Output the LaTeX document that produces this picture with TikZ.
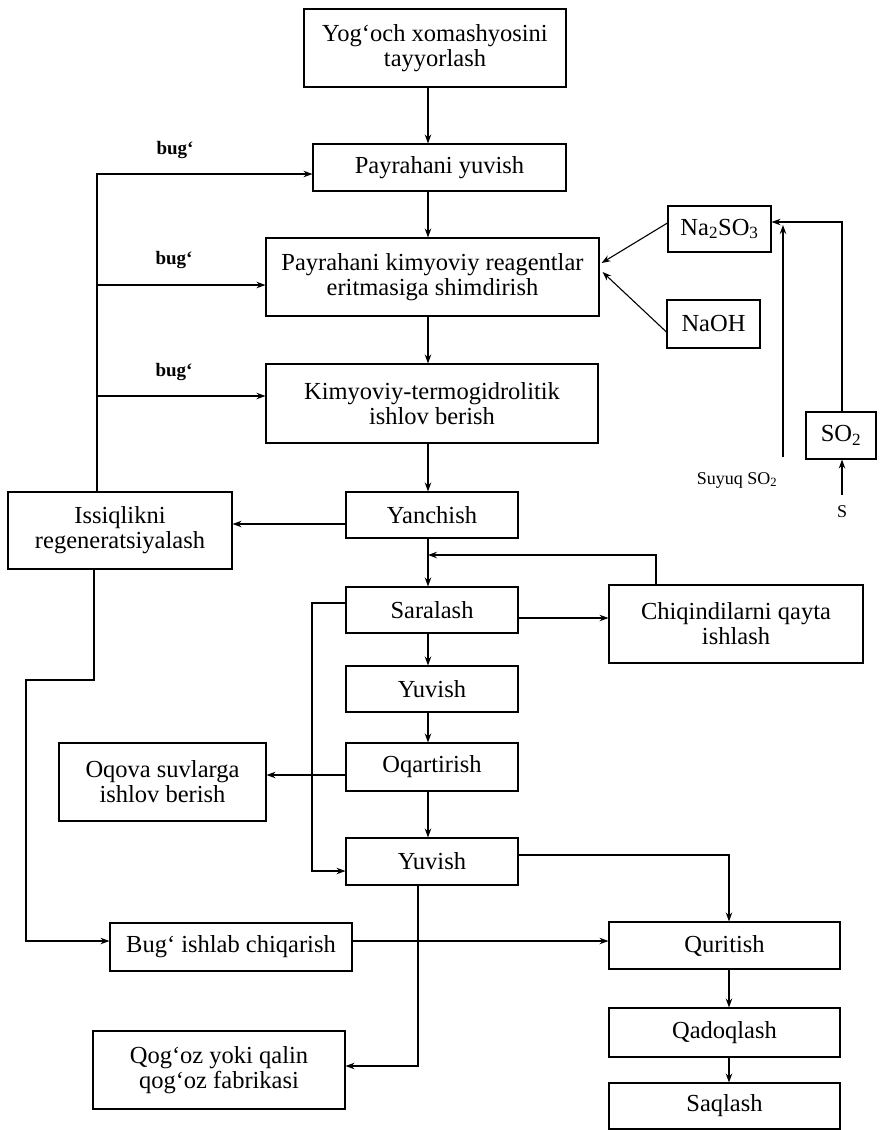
\documentclass[tikz,border=0pt]{standalone}
\usepackage{fontspec}
\setmainfont{Liberation Serif}
\usetikzlibrary{arrows.meta,calc}
\begin{document}
\begin{tikzpicture}[x=1pt,y=-1pt,
  box/.style={draw,line width=1.1pt,align=center,inner sep=2pt,font=\fontsize{24.5}{25}\selectfont},
  arr/.style={line width=1.1pt,-{Stealth[length=9pt,width=6.5pt]}},
  ln/.style={line width=1.1pt},
  lbl/.style={font=\fontsize{19}{20}\selectfont\bfseries},
  sm/.style={font=\fontsize{18}{20}\selectfont,inner sep=1pt}]
\useasboundingbox[fill=white] (0,0) rectangle (883,1130);

% main column
\node[box,minimum width=262pt,minimum height=78pt] (b1) at (435,48) {Yog‘och xomashyosini\\tayyorlash};
\node[box,minimum width=253pt,minimum height=47pt] (b2) at (439.5,167.5) {Payrahani yuvish};
\node[box,minimum width=333pt,minimum height=78pt] (b3) at (432.5,277) {Payrahani kimyoviy reagentlar\\eritmasiga shimdirish};
\node[box,minimum width=332pt,minimum height=79pt] (b4) at (432,403.5) {Kimyoviy-termogidrolitik\\ishlov berish};
\node[box,minimum width=172pt,minimum height=46pt] (yan) at (432,515) {Yanchish};
\node[box,minimum width=224pt,minimum height=77pt] (iss) at (120,530.5) {Issiqlikni\\regeneratsiyalash};
\node[box,minimum width=172pt,minimum height=46pt] (sar) at (432,610) {Saralash};
\node[box,minimum width=254pt,minimum height=78pt] (chq) at (736,624) {Chiqindilarni qayta\\ishlash};
\node[box,minimum width=172pt,minimum height=46pt] (yuv1) at (432,689) {Yuvish};
\node[box,minimum width=172pt,minimum height=48pt] (oqa) at (432,767) {Oqartirish};
\node[box,minimum width=207pt,minimum height=78pt] (oqv) at (162.5,782) {Oqova suvlarga\\ishlov berish};
\node[box,minimum width=172pt,minimum height=47pt] (yuv2) at (432,861.5) {Yuvish};
\node[box,minimum width=231pt,minimum height=47pt] (qur) at (724.5,945.5) {Quritish};
\node[box,minimum width=242pt,minimum height=48pt] (bug) at (231,947) {Bug‘ ishlab chiqarish};
\node[box,minimum width=252pt,minimum height=78pt] (qog) at (219,1070) {Qog‘oz yoki qalin\\qog‘oz fabrikasi};
\node[box,minimum width=231pt,minimum height=49pt] (qad) at (724.5,1032.5) {Qadoqlash};
\node[box,minimum width=231pt,minimum height=46pt] (saq) at (724.5,1106) {Saqlash};

% reagents
\node[box,minimum width=103pt,minimum height=46pt] (na2) at (719.5,229) {Na\textsubscript{2}SO\textsubscript{3}};
\node[box,minimum width=93pt,minimum height=48pt] (naoh) at (713.5,324) {NaOH};
\node[box,minimum width=70pt,minimum height=47pt] (so2) at (841,435.5) {SO\textsubscript{2}};
\node[sm] (s) at (842,512) {S};
\node[sm] (suy) at (737,480) {Suyuq SO\textsubscript{2}};

% labels
\node[lbl] (l1) at (175,150) {bug‘};
\node[lbl] (l2) at (174,260) {bug‘};
\node[lbl] (l3) at (174,372) {bug‘};

% helper coordinates
\coordinate (ax) at (428,0);
\coordinate (s1) at (97,174);
\coordinate (s2) at (97,285);
\coordinate (s3) at (97,396);
\coordinate (r1) at (656,555);
\coordinate (c1) at (0,618);
\coordinate (k1) at (312,603);
\coordinate (k2) at (312,871);
\coordinate (m1) at (94,680);
\coordinate (m2) at (26,680);
\coordinate (m3) at (26,941);
\coordinate (n1) at (0,775);
\coordinate (p1) at (729,855);
\coordinate (q1) at (0,941);
\coordinate (t1) at (418,1066);
\coordinate (w1) at (842,222);
\coordinate (v1) at (783,457);
\coordinate (v2) at (783,225);
\coordinate (y1) at (0,524);

% main flow
\draw[arr] (b1.south -| ax) -- (b2.north -| ax);
\draw[arr] (b2.south -| ax) -- (b3.north -| ax);
\draw[arr] (b3.south -| ax) -- (b4.north -| ax);
\draw[arr] (b4.south -| ax) -- (yan.north -| ax);
\draw[arr] (yan.south -| ax) -- (sar.north -| ax);
\draw[arr] (sar.south -| ax) -- (yuv1.north -| ax);
\draw[arr] (yuv1.south -| ax) -- (oqa.north -| ax);
\draw[arr] (oqa.south -| ax) -- (yuv2.north -| ax);

% steam loop
\draw[arr] (iss.north -| s1) -- (s1) -- (s1 -| b2.west);
\draw[arr] (s2) -- (s2 -| b3.west);
\draw[arr] (s3) -- (s3 -| b4.west);
\draw[arr] (yan.west |- y1) -- (iss.east |- y1);

% waste recycling
\draw[arr] (sar.east |- c1) -- (chq.west |- c1);
\draw[arr] (chq.north -| r1) -- (r1) -- (r1 -| ax);

% bypass
\draw[arr] (sar.west |- k1) -- (k1) -- (k2) -- (k2 -| yuv2.west);
\draw[arr] (oqa.west |- n1) -- (oqv.east |- n1);

% heat to steam generation
\draw[arr] (iss.south -| m1) -- (m1) -- (m2) -- (m3) -- (m3 -| bug.west);
\draw[arr] (bug.east |- q1) -- (qur.west |- q1);

% to drying
\draw[arr] (yuv2.east |- p1) -- (p1) -- (p1 |- qur.north);
\draw[arr] (qur.south -| p1) -- (qad.north -| p1);
\draw[arr] (qad.south -| p1) -- (saq.north -| p1);
\draw[arr] (yuv2.south -| t1) -- (t1) -- (t1 -| qog.east);

% reagents
\draw[arr] ($(na2.west)+(0,-6)$) -- ($(b3.east)+(2,-14)$);
\draw[arr] ($(naoh.west)+(0,8)$) -- ($(b3.east)+(3,-5)$);
\draw[arr] (so2.north -| w1) -- (w1) -- (w1 -| na2.east);
\draw[arr] (v1) -- (v2);
\draw[arr] ($(s.north)+(0,-10)$) -- (so2.south -| s);
\end{tikzpicture}
\end{document}
